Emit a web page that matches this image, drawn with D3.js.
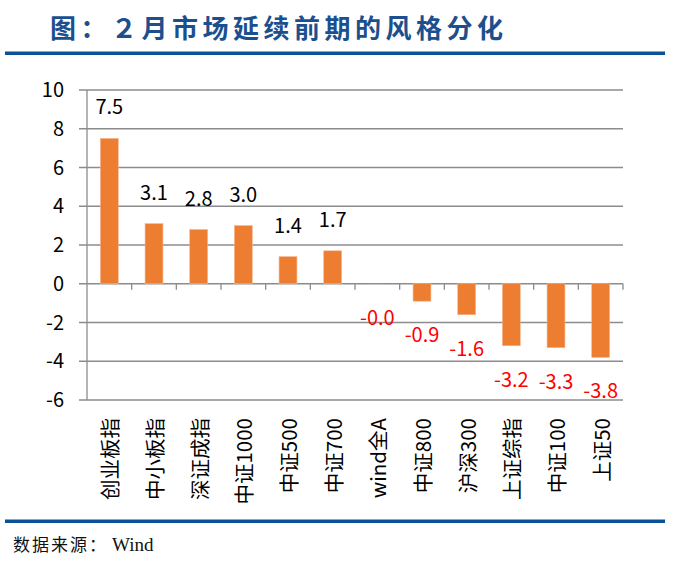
<!DOCTYPE html>
<html>
<head>
<meta charset="utf-8">
<script src="https://cdn.jsdelivr.net/npm/d3@7"></script>
<style>
  body { margin: 0; background: #fff; }
  text { font-family: "Noto Sans CJK SC", "Noto Sans", sans-serif; }
</style>
</head>
<body>
<div id="chart"></div>
<script>
// data
var categories = ["创业板指", "中小板指", "深证成指", "中证1000", "中证500", "中证700",
  "wind全A", "中证800", "沪深300", "上证综指", "中证100", "上证50"];
var values = [7.5, 3.1, 2.8, 3.0, 1.4, 1.7, -0.01, -0.9, -1.6, -3.2, -3.3, -3.8];
var yTicks = [-6, -4, -2, 0, 2, 4, 6, 8, 10];

var svgWidth = 696;
var svgHeight = 568;

var svg = d3.select("#chart")
  .append("svg")
  .attr("width", svgWidth)
  .attr("height", svgHeight);

// title and blue rules
svg.append("text")
  .attr("x", 50)
  .attr("y", 38)
  .attr("fill", "#1b4f8e")
  .attr("font-size", "26px")
  .attr("font-weight", "bold")
  .attr("letter-spacing", "4.5px")
  .text("图：２月市场延续前期的风格分化");

svg.append("rect")
  .attr("x", 5).attr("y", 51.5)
  .attr("width", 660).attr("height", 3.5)
  .attr("fill", "#0b5398");

svg.append("rect")
  .attr("x", 5).attr("y", 519.5)
  .attr("width", 660).attr("height", 3.5)
  .attr("fill", "#0b5398");

// source line
var src = svg.append("text")
  .attr("x", 13)
  .attr("y", 551)
  .attr("fill", "#111")
  .attr("font-size", "17px");
src.append("tspan")
  .attr("letter-spacing", "2px")
  .text("数据来源：");
src.append("tspan")
  .attr("dx", 4)
  .attr("font-size", "19px")
  .style("font-family", "'Liberation Serif', 'DejaVu Serif', serif")
  .text("Wind");

// scales
var x = d3.scaleBand()
  .domain(categories)
  .range([87, 623])
  .paddingInner(0.6)
  .paddingOuter(0.3);

var y = d3.scaleLinear()
  .domain([-6, 10])
  .range([400, 90]);

var chartGroup = svg.append("g");

// gridlines with left tick stubs
chartGroup.selectAll(".grid")
  .data(yTicks)
  .enter()
  .append("line")
  .attr("class", "grid")
  .attr("x1", 79)
  .attr("x2", 623)
  .attr("y1", d => y(d))
  .attr("y2", d => y(d))
  .attr("stroke", "#8c8c8c")
  .attr("stroke-width", 1.3);

// y axis line
chartGroup.append("line")
  .attr("x1", 87).attr("x2", 87)
  .attr("y1", y(10)).attr("y2", y(-6))
  .attr("stroke", "#8c8c8c")
  .attr("stroke-width", 1.3);

// y tick labels
chartGroup.selectAll(".ylab")
  .data(yTicks)
  .enter()
  .append("text")
  .attr("class", "ylab")
  .attr("x", 64)
  .attr("y", d => y(d))
  .attr("dy", "0.35em")
  .attr("text-anchor", "end")
  .attr("font-size", "20px")
  .attr("fill", "#000")
  .text(d => d);

// category boundary ticks on the zero line
var step = x.step();
var bounds = d3.range(1, categories.length + 1).map(i => x.range()[0] + i * step);
chartGroup.selectAll(".xtick")
  .data(bounds)
  .enter()
  .append("line")
  .attr("class", "xtick")
  .attr("x1", d => d).attr("x2", d => d)
  .attr("y1", y(0)).attr("y2", y(0) + 6)
  .attr("stroke", "#8c8c8c")
  .attr("stroke-width", 1.3);

// bars
chartGroup.selectAll(".bar")
  .data(values)
  .enter()
  .append("rect")
  .attr("class", "bar")
  .attr("x", (d, i) => x(categories[i]))
  .attr("width", x.bandwidth())
  .attr("y", d => y(Math.max(0, d)))
  .attr("height", d => Math.abs(y(d) - y(0)))
  .attr("fill", "#ed7d31")
  .attr("stroke", d => Math.abs(d) < 0.05 ? "none" : "#f6b48a")
  .attr("stroke-width", 0.6);

// value labels
function fmt(v) {
  return (v < 0 ? "-" : "") + Math.abs(v).toFixed(1);
}
chartGroup.selectAll(".vlab")
  .data(values)
  .enter()
  .append("text")
  .attr("class", "vlab")
  .attr("x", (d, i) => x(categories[i]) + x.bandwidth() / 2)
  .attr("y", d => d >= 0 ? y(d) - 24 : y(d) + 41)
  .attr("text-anchor", "middle")
  .attr("font-size", "20px")
  .attr("fill", d => d >= 0 ? "#000" : "#ff0000")
  .text(d => fmt(d));

// category labels, rotated
chartGroup.selectAll(".xlab")
  .data(categories)
  .enter()
  .append("text")
  .attr("class", "xlab")
  .attr("transform", d => `translate(${x(d) + x.bandwidth() / 2}, 418) rotate(-90)`)
  .attr("text-anchor", "end")
  .attr("dominant-baseline", "central")
  .attr("font-size", "20.5px")
  .attr("fill", "#000")
  .text(d => d);
</script>
</body>
</html>
